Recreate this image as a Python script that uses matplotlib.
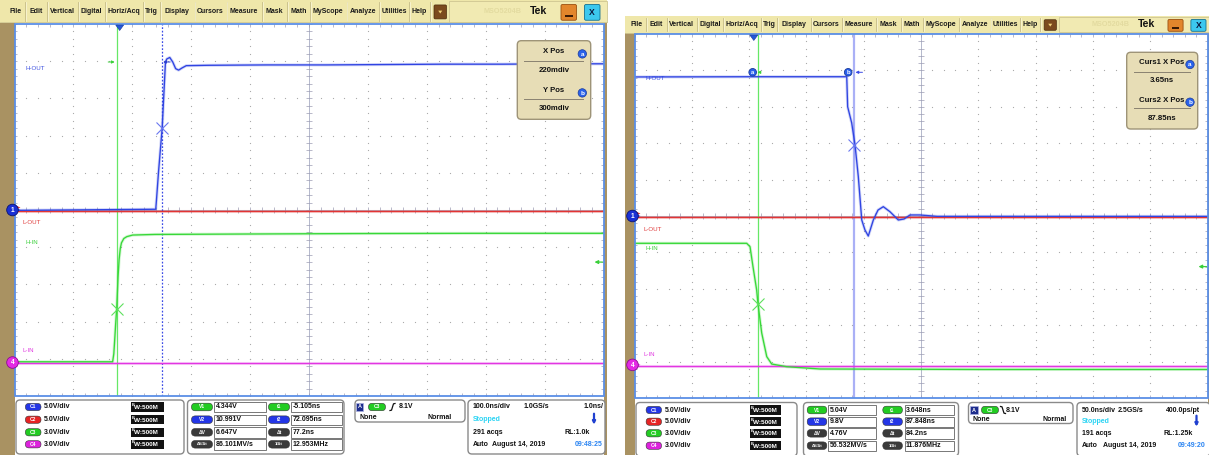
import numpy as np
import matplotlib
matplotlib.use("Agg")
import matplotlib.pyplot as plt
from matplotlib.patches import Rectangle, FancyBboxPatch, Circle, Polygon
from matplotlib.collections import LineCollection

plt.rcParams['font.family'] = ['Liberation Sans', 'DejaVu Sans']

W, H = 1209, 455

# ------------------------------------------------------------------ data
menu_items = ["File", "Edit", "Vertical", "Digital", "Horiz/Acq", "Trig", "Display",
              "Cursors", "Measure", "Mask", "Math", "MyScope", "Analyze", "Utilities", "Help"]
brand_text = "Tek"
model_text = "MSO5204B"

channels = ["C1", "C2", "C3", "C4"]
trace_names = ["H-OUT", "L-OUT", "H-IN", "L-IN"]
volts_per_div = [5.0, 5.0, 3.0, 3.0]
volts_per_div_labels = ["5.0V/div", "5.0V/div", "3.0V/div", "3.0V/div"]
bandwidth_label = "W:500M"
trigger_source = "C3"
trigger_level_v = 8.1
trigger_level_label = "8.1V"
v_pill_labels = ["V1", "V2", "ΔV", "ΔV/Δt"]
t_pill_labels = ["t1", "t2", "Δt", "1/Δt"]

# ---- left capture (H-IN rising edge), 100 ns/div
left_ns_per_div = 100.0
left_center_ns = 321.4
left_offsets_div = [0.0, 0.0, -4.1, -4.1]
left_c1_t = [-178.6, 61.2, 62.4, 66.0, 72.1, 77.7, 80.0, 85.0, 90.0, 95.0, 100.0, 106.0, 113.0,
             150.0, 250.0, 350.0, 450.0, 550.0, 650.0, 750.0, 821.4]
left_c1_v = [-0.05, 0.1, 1.3, 5.2, 11.0, 19.9, 20.3, 20.5, 19.9, 19.0, 18.8, 19.1, 19.4,
             19.45, 19.5, 19.5, 19.55, 19.6, 19.6, 19.65, 19.65]
left_c2_t = [-178.6, 821.4]
left_c2_v = [-0.12, -0.12]
left_c3_t = [-178.6, -12.0, -10.0, -8.5, -7.0, -5.1, -2.8, -1.0, 1.0, 3.0, 7.0, 12.0, 22.0,
             60.0, 200.0, 400.0, 600.0, 821.4]
left_c3_v = [0.06, 0.06, 0.7, 1.8, 3.0, 4.34, 6.9, 8.3, 9.2, 9.65, 10.0, 10.15, 10.28,
             10.33, 10.36, 10.4, 10.42, 10.42]
left_c4_t = [-178.6, 821.4]
left_c4_v = [-0.07, -0.07]
left_cursor_t = [-5.105, 72.095]
left_cursor_v = [4.344, 10.991]
left_readout_v = ["4.344V", "10.991V", "6.647V", "86.101MV/s"]
left_readout_t = ["-5.105ns", "72.095ns", "77.2ns", "12.953MHz"]
left_popup_titles = ["X Pos", "Y Pos"]
left_popup_values = ["220mdiv", "300mdiv"]
left_timebase = ["100.0ns/div", "1.0GS/s", "1.0ns/"]
left_acqs = "291 acqs"
left_rl = "RL:1.0k"
left_date = "August 14, 2019"
left_clock = "09:48:25"

# ---- right capture (H-IN falling edge), 50 ns/div
right_ns_per_div = 50.0
right_center_ns = 145.9
right_offsets_div = [0.0, 0.0, -4.09, -4.09]
right_c1_t = [-104.1, 0.0, 81.1, 81.9, 85.4, 88.3, 91.2, 94.2, 97.0, 99.9, 104.3, 108.4, 113.0,
              118.8, 126.1, 131.1, 136.3, 145.0, 160.0, 200.0, 300.0, 395.9]
right_c1_v = [19.1, 19.13, 19.13, 15.0, 12.8, 9.8, 5.4, -0.55, -1.92, -2.75, -0.55, 0.82, 1.28,
              0.59, -0.55, -0.41, 0.14, 0.14, -0.05, -0.05, -0.05, -0.05]
right_c2_t = [-104.1, 395.9]
right_c2_v = [-0.07, -0.07]
right_c3_t = [-104.1, -6.2, -3.3, -0.7, 2.5, 3.648, 6.9, 11.3, 15.6, 28.7, 57.8, 100.0, 200.0, 395.9]
right_c3_v = [10.02, 10.02, 9.74, 8.09, 6.17, 5.04, 2.63, 0.68, 0.07, -0.15, -0.34, -0.35, -0.38, -0.38]
right_c4_t = [-104.1, 395.9]
right_c4_v = [-0.07, -0.07]
right_cursor_t = [3.648, 87.848]
right_cursor_v = [5.04, 9.8]
right_readout_v = ["5.04V", "9.8V", "4.76V", "56.532MV/s"]
right_readout_t = ["3.648ns", "87.848ns", "84.2ns", "11.876MHz"]
right_popup_titles = ["Curs1 X Pos", "Curs2 X Pos"]
right_popup_values = ["3.65ns", "87.85ns"]
right_timebase = ["50.0ns/div", "2.5GS/s", "400.0ps/pt"]
right_acqs = "191 acqs"
right_rl = "RL:1.25k"
right_date = "August 14, 2019"
right_clock = "09:49:20"

left_data = dict(ns_per_div=left_ns_per_div, center_ns=left_center_ns, offsets=left_offsets_div,
                 traces=[(left_c1_t, left_c1_v), (left_c2_t, left_c2_v), (left_c3_t, left_c3_v), (left_c4_t, left_c4_v)],
                 cursor_t=left_cursor_t, cursor_v=left_cursor_v, readout_v=left_readout_v, readout_t=left_readout_t,
                 popup_titles=left_popup_titles, popup_values=left_popup_values, timebase=left_timebase,
                 acqs=left_acqs, rl=left_rl, date=left_date, clock=left_clock, edge="rise")
right_data = dict(ns_per_div=right_ns_per_div, center_ns=right_center_ns, offsets=right_offsets_div,
                  traces=[(right_c1_t, right_c1_v), (right_c2_t, right_c2_v), (right_c3_t, right_c3_v), (right_c4_t, right_c4_v)],
                  cursor_t=right_cursor_t, cursor_v=right_cursor_v, readout_v=right_readout_v, readout_t=right_readout_t,
                  popup_titles=right_popup_titles, popup_values=right_popup_values, timebase=right_timebase,
                  acqs=right_acqs, rl=right_rl, date=right_date, clock=right_clock, edge="fall")

# ------------------------------------------------------------------ layout / style
menu_seps = [25.4, 46.9, 78, 104.7, 143.4, 160, 194.5, 226.5, 261.7, 287, 309.8, 346.5, 379, 409, 429.7]
trace_colors = ['#2f44e2', '#e23434', '#38d838', '#e236e2']
label_colors = ['#3a4ee0', '#e03a3a', '#3ad03a', '#e03ae0']
pill_colors = ['#2436e6', '#e62424', '#22cc22', '#dd22dd']
BROWN = '#A99262'

geom_left = dict(
    px0=0, px1=607, strip_l=(0, 14.5), strip_r=(603.5, 607),
    menu=(0, 22.5), menu_map=(0.0, 1.0), menu_fs=5.0,
    grat=(14.5, 24.0, 603.5, 396.0),
    boxes=[(16, 400, 184, 454), (187.5, 400, 344, 454), (355, 400, 465, 422), (468, 400, 605, 454)],
    rows=[407, 419.7, 432.3, 444.3],
    b1=dict(pill=33.2, pw=15.6, text=44, bw=(131, 164)),
    b2=dict(vp=202, pw=21, vb=(214, 265.6), tp=279, tb=(291, 342)),
    b3=dict(a=359.5, pill=377, edge=390, lvl=398.5, row1=407, row2=417.7, none=359.4, normal=452),
    b4=dict(x=472.7, gs=523.4, res_r=604, arrow=594, rl_r=590, date=492, time_r=603),
    labels=[(25, 68.5), (22.7, 222.7), (25, 242.3), (22.7, 351)],
    popup=(517.3, 40.7, 590.7, 119.3), popup_rows=[51.7, 70, 90.7, 108.3], popup_sep=[61.3, 99],
    popup_cx=554, popup_circle_x=582.3, popup_fs=5.6,
    marker_y=62, cursor_circles=False,
)
geom_right = dict(
    px0=625, px1=1209, strip_l=(625, 634.5), strip_r=(1207.5, 1209),
    menu=(16, 33), menu_map=(621.0, 0.975), menu_fs=5.0,
    grat=(634.5, 34.0, 1207.5, 398.0),
    boxes=[(636, 402.5, 797, 456), (803.5, 402.5, 958.5, 456), (968.5, 402.5, 1073, 423.5), (1077, 402.5, 1210, 456)],
    rows=[410, 421.7, 433.3, 445.7],
    b1=dict(pill=653.8, pw=15.4, text=665, bw=(750, 781)),
    b2=dict(vp=817, pw=19.6, vb=(828, 876), tp=892.6, tb=(904.5, 953.5)),
    b3=dict(a=974, pill=990, edge=1000.5, lvl=1006, row1=410, row2=419.5, none=972.3, normal=1066.5),
    b4=dict(x=1081.6, gs=1117.4, res_r=1200.2, arrow=1196.5, rl_r=1192.7, date=1103, time_r=1206),
    labels=[(645, 78.3), (643.3, 229.3), (645, 249), (643.3, 354)],
    popup=(1126.7, 52.3, 1197.7, 129), popup_rows=[62.3, 80.7, 100, 118.3], popup_sep=[72.3, 108.3],
    popup_cx=1161.7, popup_circle_x=1190, popup_fs=5.6,
    marker_y=72.3, cursor_circles=True,
)


# ------------------------------------------------------------------ helpers
def rect(ax, x0, y0, x1, y1, **kw):
    ax.add_patch(Rectangle((x0, y0), x1 - x0, y1 - y0, **kw))


def rbox(ax, x0, y0, x1, y1, r, **kw):
    ax.add_patch(FancyBboxPatch((x0, y0), x1 - x0, y1 - y0,
                                boxstyle=f"round,pad=0,rounding_size={r}", **kw))


def txt(ax, x, y, s, size=5.0, color='#111111', ha='left', weight='bold', **kw):
    ax.text(x, y, s, fontsize=size, color=color, ha=ha, va='center', fontweight=weight, **kw)


def pill(ax, cx, cy, w, h, color, label, fs=3.6):
    rbox(ax, cx - w / 2, cy - h / 2, cx + w / 2, cy + h / 2, h / 2, fc=color, ec='#333333', lw=0.4)
    txt(ax, cx, cy, label, size=fs, color='white', ha='center')


def arrow(ax, tail, tip, color, ms=5, lw=0.8):
    ax.annotate('', xy=tip, xytext=tail,
                arrowprops=dict(arrowstyle='-|>', color=color, lw=lw, mutation_scale=ms,
                                shrinkA=0, shrinkB=0))


def letter_circle(ax, x, y, r, fc, ec, s, fs=4.6):
    ax.add_patch(Circle((x, y), r, fc=fc, ec=ec, lw=0.6, zorder=5))
    ax.text(x, y + 0.3, s, fontsize=fs, color='white', ha='center', va='center',
            fontweight='bold', zorder=6)


def draw_menu(ax, g):
    x0, x1 = g['px0'], g['px1']
    y0, y1 = g['menu']
    off, sc = g['menu_map']
    f = lambda u: off + sc * u
    ym = (y0 + y1) / 2
    hh = y1 - y0
    rect(ax, x0, y0, x1, y1, fc='#EFE7AA', ec='none')
    ax.plot([x0, x1], [y1 - 0.3, y1 - 0.3], color='#d2c994', lw=0.6)
    prev = 6.0
    for name, s in zip(menu_items, menu_seps):
        txt(ax, f((prev + s) / 2), ym, name, size=g['menu_fs'], ha='center', color='#1a1a1a')
        ax.plot([f(s)] * 2, [y0 + 2, y1 - 2], color='#c6bd88', lw=0.6)
        ax.plot([f(s) + 0.9] * 2, [y0 + 2, y1 - 2], color='#fbf7dc', lw=0.5)
        prev = s
    # dropdown button
    bx0, bx1 = f(434), f(446.5)
    by0, by1 = y0 + 0.22 * hh, y1 - 0.16 * hh
    rbox(ax, bx0, by0, bx1, by1, 1.2, fc='#7b4a1e', ec='#4a2a0c', lw=0.5)
    cx, cy = (bx0 + bx1) / 2, (by0 + by1) / 2
    ax.add_patch(Polygon([(cx - 2, cy - 1.3), (cx + 2, cy - 1.3), (cx, cy + 1.6)], closed=True,
                         fc='#f2d27a', ec='none'))
    # status area
    rect(ax, f(449), y0 + 0.5, x1 - 0.5, y1 - 0.8, fc='#F1EAB2', ec='#cfc692', lw=0.6)
    txt(ax, f(502), ym, model_text, size=5.2, ha='center', color='#e3dba0')
    txt(ax, f(539), ym - 0.5, brand_text, size=7.6, ha='center', color='#111111')
    # minimise button
    mx0, mx1 = f(561), f(576.5)
    my0, my1 = y0 + 0.2 * hh, y1 - 0.1 * hh
    rbox(ax, mx0, my0, mx1, my1, 1.5, fc='#e2862c', ec='#9a5010', lw=0.6)
    rect(ax, mx0 + 4, my1 - 0.32 * (my1 - my0), mx1 - 4, my1 - 0.22 * (my1 - my0), fc='#3a1a04', ec='none')
    # close button
    cx0, cx1 = f(584.5), f(600)
    rbox(ax, cx0, my0, cx1, my1, 1.5, fc='#3cc8ee', ec='#157090', lw=0.6)
    txt(ax, (cx0 + cx1) / 2, (my0 + my1) / 2, 'X', size=6.2, ha='center', color='#0b1a40')


def draw_scope(fig, ax_bg, ax_ov, g, d):
    gx0, gy0, gx1, gy1 = g['grat']
    tdiv = d['ns_per_div']
    c = d['center_ns']
    t_lo, t_hi = c - 5 * tdiv, c + 5 * tdiv
    pxdx = (gx1 - gx0) / 10.0
    pxdy = (gy1 - gy0) / 10.0
    X = lambda t: gx0 + (t - t_lo) / tdiv * pxdx
    Y = lambda dv: gy0 + (5 - dv) * pxdy
    offs = d['offsets']

    rect(ax_bg, gx0, gy0, gx1, gy1, fc='white', ec='none')
    # trace labels (under traces)
    for i in range(4):
        lx, ly = g['labels'][i]
        txt(ax_bg, lx, ly, trace_names[i], size=4.4, color=label_colors[i], weight='normal')

    gax = fig.add_axes([gx0 / W, 1 - gy1 / H, (gx1 - gx0) / W, (gy1 - gy0) / H], zorder=1)
    gax.set_xlim(t_lo, t_hi)
    gax.set_ylim(-5, 5)
    gax.axis('off')

    minor_t = t_lo + np.arange(51) * tdiv / 5
    minor_y = -5 + np.arange(51) * 0.2
    for k in range(1, 10):
        if k == 5:
            continue
        gax.plot(np.full(51, t_lo + k * tdiv), minor_y, ls='none', marker='s', ms=0.8, mew=0,
                 color='#ababab')
        gax.plot(minor_t, np.full(51, -5.0 + k), ls='none', marker='s', ms=0.8, mew=0,
                 color='#ababab')
    gax.axvline(c, color='#b4b8cc', lw=0.7)
    gax.axhline(0, color='#b4b8cc', lw=0.7)
    lx = 2.8 * tdiv / pxdx
    ly = 2.8 / pxdy
    segs = []
    for tt in minor_t:
        segs.append([(tt, -ly), (tt, ly)])
        segs.append([(tt, 5), (tt, 5 - ly)])
        segs.append([(tt, -5), (tt, -5 + ly)])
    for yy in minor_y:
        segs.append([(c - lx, yy), (c + lx, yy)])
        segs.append([(t_lo, yy), (t_lo + lx, yy)])
        segs.append([(t_hi, yy), (t_hi - lx, yy)])
    gax.add_collection(LineCollection(segs, colors='#9c9cb4', linewidths=0.5))

    # cursors
    t1, t2 = d['cursor_t']
    v1, v2 = d['cursor_v']
    gax.axvline(t1, color='#66e866', lw=0.9, zorder=2)
    if d['edge'] == 'rise':
        gax.axvline(t2, color='#3a4ae6', lw=0.9, ls=(0, (1.4, 1.4)), zorder=2)
    else:
        gax.axvline(t2, color='#aab0f6', lw=1.6, zorder=2)

    # traces
    for i in [1, 0, 3, 2]:
        tt, vv = d['traces'][i]
        yv = offs[i] + np.asarray(vv) / volts_per_div[i]
        gax.plot(tt, yv, color=trace_colors[i], lw=2.2, alpha=0.22, zorder=3, solid_joinstyle='round')
        gax.plot(tt, yv, color=trace_colors[i], lw=0.95, zorder=4, solid_joinstyle='round')

    # cursor crosses
    gax.plot([t1], [offs[2] + v1 / volts_per_div[2]], marker='x', ms=8, mew=0.8, color='#5ee05e', zorder=6)
    gax.plot([t2], [offs[0] + v2 / volts_per_div[0]], marker='x', ms=8, mew=0.8, color='#6a78f0', zorder=6)

    # ---- overlay in pixels
    rect(ax_ov, gx0, gy0, gx1, gy1, fc='none', ec='#5b8fe6', lw=1.3)
    # trigger position marker
    tx = X(0.0)
    ax_ov.add_patch(Polygon([(tx - 4, gy0 + 1), (tx + 4, gy0 + 1), (tx, gy0 + 6.5)], closed=True,
                            fc='#2458d8', ec='#1a3a9a', lw=0.4))
    # trigger level arrow at right edge
    ty = Y(offs[2] + trigger_level_v / volts_per_div[2])
    arrow(ax_ov, (gx1 - 1, ty), (gx1 - 9, ty), '#3ad03a', ms=5, lw=0.9)
    # cursor top markers
    my = g['marker_y']
    x1p, x2p = X(t1), X(t2)
    if g['cursor_circles']:
        letter_circle(ax_ov, x1p - 5.3, my, 3.8, '#2a60ea', '#1a3a9a', 'a', fs=4.2)
        arrow(ax_ov, (x1p + 2.5, my), (x1p - 0.5, my), '#3ad03a', ms=4, lw=0.7)
        letter_circle(ax_ov, x2p - 6.3, my, 3.8, '#2a60ea', '#1a3a9a', 'b', fs=4.2)
        arrow(ax_ov, (x2p + 8, my), (x2p + 1, my), '#3a4ae6', ms=4, lw=0.7)
    else:
        arrow(ax_ov, (x1p - 8.5, my), (x1p - 2, my), '#3ad03a', ms=4, lw=0.7)
        arrow(ax_ov, (x2p + 8, my), (x2p + 1, my), '#2a3ed0', ms=4, lw=0.7)
    # channel reference markers
    cxm = gx0 - 2
    y_c1 = Y(offs[0])
    y_c2 = Y(offs[1])
    y_c4 = Y(offs[3])
    ax_ov.add_patch(Polygon([(gx0 + 1, y_c2 - 4.5), (gx0 + 1, y_c2 - 0.5), (gx0 + 6, y_c2 - 2.5)],
                            closed=True, fc='#e23434', ec='none', zorder=4))
    ax_ov.add_patch(Polygon([(gx0 + 1, y_c1 - 2), (gx0 + 1, y_c1 + 2), (gx0 + 6, y_c1)],
                            closed=True, fc='#2f44e2', ec='none', zorder=4))
    ax_ov.add_patch(Polygon([(gx0 + 1, y_c4 - 2), (gx0 + 1, y_c4 + 2), (gx0 + 6, y_c4)],
                            closed=True, fc='#e236e2', ec='none', zorder=4))
    letter_circle(ax_ov, cxm, y_c1, 5.8, '#1a30d4', '#0a1470', '1', fs=4.8)
    letter_circle(ax_ov, cxm, y_c4, 5.8, '#e42ae4', '#8a1090', '4', fs=4.8)

    # cursor readout popup
    px0, py0, px1, py1 = g['popup']
    rbox(ax_ov, px0, py0, px1, py1, 4, fc='#E7DDB6', ec='#9e9478', lw=1.0, zorder=7)
    pr = g['popup_rows']
    fs = g['popup_fs']
    for j in range(2):
        txt(ax_ov, g['popup_cx'], pr[2 * j], d['popup_titles'][j], size=fs, ha='center', zorder=8)
        txt(ax_ov, g['popup_cx'], pr[2 * j + 1], d['popup_values'][j], size=fs, ha='center', zorder=8)
        ax_ov.plot([px0 + 7, px1 - 8], [g['popup_sep'][j]] * 2, color='#8a8270', lw=0.7, zorder=8)
        ax_ov.add_patch(Circle((g['popup_circle_x'], pr[2 * j] + 2.2), 4.2, fc='#2a62ea',
                               ec='#1a3a9a', lw=0.5, zorder=8))
        ax_ov.text(g['popup_circle_x'], pr[2 * j] + 2.4, 'ab'[j], fontsize=4.6, color='white',
                   ha='center', va='center', fontweight='bold', zorder=9)


def draw_bottom(ax, g, d):
    for (x0, y0, x1, y1) in g['boxes']:
        rbox(ax, x0, y0, x1, y1, 4, fc='white', ec='#8a8a8a', lw=1.0)
    rows = g['rows']
    b1 = g['b1']
    for i in range(4):
        pill(ax, b1['pill'], rows[i], b1['pw'], 7.2, pill_colors[i], channels[i])
        txt(ax, b1['text'], rows[i], volts_per_div_labels[i], size=5.0)
        rect(ax, b1['bw'][0], rows[i] - 4.6, b1['bw'][1], rows[i] + 4.6, fc='#121212', ec='none')
        txt(ax, b1['bw'][0] + 1.0, rows[i] - 2.0, 'B', size=2.8, color='white')
        txt(ax, b1['bw'][0] + 3.2, rows[i] + 0.6, bandwidth_label, size=4.6, color='white')
    b2 = g['b2']
    vcols = ['#22cc22', '#2436e6', '#3a3a3a', '#3a3a3a']
    tcols = ['#22cc22', '#2436e6', '#3a3a3a', '#3a3a3a']
    for i in range(4):
        pill(ax, b2['vp'], rows[i], b2['pw'], 7.6, vcols[i], v_pill_labels[i],
             fs=3.6 if i < 3 else 2.9)
        rect(ax, b2['vb'][0], rows[i] - 5.2, b2['vb'][1], rows[i] + 5.2, fc='white', ec='#777777', lw=0.7)
        txt(ax, b2['vb'][0] + 1.5, rows[i], d['readout_v'][i], size=5.0)
        pill(ax, b2['tp'], rows[i], b2['pw'], 7.6, tcols[i], t_pill_labels[i],
             fs=3.6 if i < 3 else 3.0)
        rect(ax, b2['tb'][0], rows[i] - 5.2, b2['tb'][1], rows[i] + 5.2, fc='white', ec='#777777', lw=0.7)
        txt(ax, b2['tb'][0] + 1.5, rows[i], d['readout_t'][i], size=5.0)
    b3 = g['b3']
    r1 = b3['row1']
    rect(ax, b3['a'] - 3.6, r1 - 4.2, b3['a'] + 3.6, r1 + 4.2, fc='#1c2c8c', ec='#aab0e0', lw=0.5)
    txt(ax, b3['a'], r1, 'A', size=4.0, color='white', ha='center')
    pill(ax, b3['pill'], r1, 17, 7.4, pill_colors[2], trigger_source)
    ex = b3['edge']
    if d['edge'] == 'rise':
        ax.plot([ex, ex + 1.5, ex + 3.5, ex + 5], [r1 + 3.5, r1 + 3.2, r1 - 3.2, r1 - 3.5], color='#111111', lw=0.9)
    else:
        ax.plot([ex, ex + 1.5, ex + 3.5, ex + 5], [r1 - 3.5, r1 - 3.2, r1 + 3.2, r1 + 3.5], color='#111111', lw=0.9)
    txt(ax, b3['lvl'], r1, trigger_level_label, size=5.0)
    txt(ax, b3['none'], b3['row2'], 'None', size=5.0)
    txt(ax, b3['normal'], b3['row2'], 'Normal', size=5.0, ha='right')
    b4 = g['b4']
    tb = d['timebase']
    txt(ax, b4['x'], rows[0], tb[0], size=5.0)
    txt(ax, b4['gs'], rows[0], tb[1], size=5.0)
    txt(ax, b4['res_r'], rows[0], tb[2], size=5.0, ha='right', clip_on=True)
    txt(ax, b4['x'], rows[1], 'Stopped', size=5.0, color='#2ad4f4')
    arrow(ax, (b4['arrow'], rows[1] - 6), (b4['arrow'], rows[1] + 5), '#2040d0', ms=4, lw=1.6)
    txt(ax, b4['x'], rows[2], d['acqs'], size=5.0)
    txt(ax, b4['rl_r'], rows[2], d['rl'], size=5.0, ha='right')
    txt(ax, b4['x'], rows[3], 'Auto', size=5.0)
    txt(ax, b4['date'], rows[3], d['date'], size=5.0)
    txt(ax, b4['time_r'], rows[3], d['clock'], size=5.0, ha='right', color='#2a84f2')


# ------------------------------------------------------------------ figure
fig = plt.figure(figsize=(W / 100, H / 100), dpi=100, facecolor='white')
ax_bg = fig.add_axes([0, 0, 1, 1], zorder=0)
ax_bg.set_xlim(0, W)
ax_bg.set_ylim(H, 0)
ax_bg.axis('off')
ax_ov = fig.add_axes([0, 0, 1, 1], zorder=3)
ax_ov.set_xlim(0, W)
ax_ov.set_ylim(H, 0)
ax_ov.axis('off')

for g, d in [(geom_left, left_data), (geom_right, right_data)]:
    y_top = g['menu'][0]
    rect(ax_bg, g['strip_l'][0], y_top, g['strip_l'][1], H, fc=BROWN, ec='none')
    rect(ax_bg, g['strip_r'][0], y_top, g['strip_r'][1], H, fc=BROWN, ec='none')
    draw_menu(ax_bg, g)
    draw_scope(fig, ax_bg, ax_ov, g, d)
    draw_bottom(ax_bg, g, d)

fig.savefig('out.png', dpi=100, facecolor='white')
